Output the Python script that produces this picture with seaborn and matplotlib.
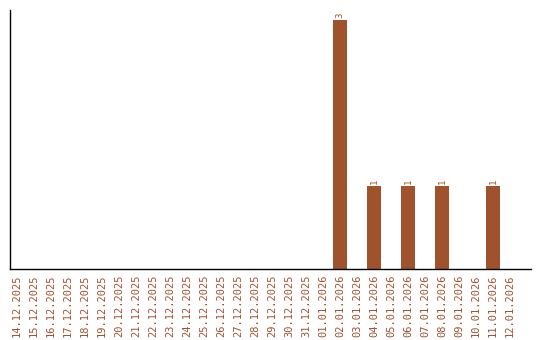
import matplotlib
matplotlib.use("Agg")
import matplotlib.pyplot as plt
import seaborn as sns
import pandas as pd

dates = ["14.12.2025", "15.12.2025", "16.12.2025", "17.12.2025", "18.12.2025",
         "19.12.2025", "20.12.2025", "21.12.2025", "22.12.2025", "23.12.2025",
         "24.12.2025", "25.12.2025", "26.12.2025", "27.12.2025", "28.12.2025",
         "29.12.2025", "30.12.2025", "31.12.2025", "01.01.2026", "02.01.2026",
         "03.01.2026", "04.01.2026", "05.01.2026", "06.01.2026", "07.01.2026",
         "08.01.2026", "09.01.2026", "10.01.2026", "11.01.2026", "12.01.2026"]
counts = [0, 0, 0, 0, 0, 0, 0, 0, 0, 0,
          0, 0, 0, 0, 0, 0, 0, 0, 0, 3,
          0, 1, 0, 1, 0, 1, 0, 0, 1, 0]

color = "#A0522D"
df = pd.DataFrame({"date": dates, "count": counts})

sns.set_style("white")
fig = plt.figure(figsize=(5.4, 3.4), dpi=100)
ax = fig.add_axes([10/540, 1 - 269/340, 521/540, 259/340])

sns.barplot(data=df, x="date", y="count", order=dates, color=color,
            saturation=1, width=0.82, linewidth=0, edgecolor=color, ax=ax)

ax.set_xlim(-0.41, 29 + 1.24)
ax.set_ylim(0, 3.12)
ax.set_xlabel("")
ax.set_ylabel("")
ax.set_yticks([])
ax.tick_params(axis="x", length=0, pad=4)
ax.set_xticks(range(len(dates)))
ax.set_xticklabels(dates, rotation=90, family="DejaVu Sans Mono",
                   fontsize=7.5, color=color)

for i, v in enumerate(counts):
    if v > 0:
        ax.text(i, v + 0.02, str(v), rotation=90, ha="center", va="bottom",
                fontsize=6.5, color=color, family="DejaVu Sans Mono")

for s in ["top", "right"]:
    ax.spines[s].set_visible(False)
for s in ["left", "bottom"]:
    ax.spines[s].set_color("black")
    ax.spines[s].set_linewidth(1)

fig.savefig("out.png", dpi=100)
